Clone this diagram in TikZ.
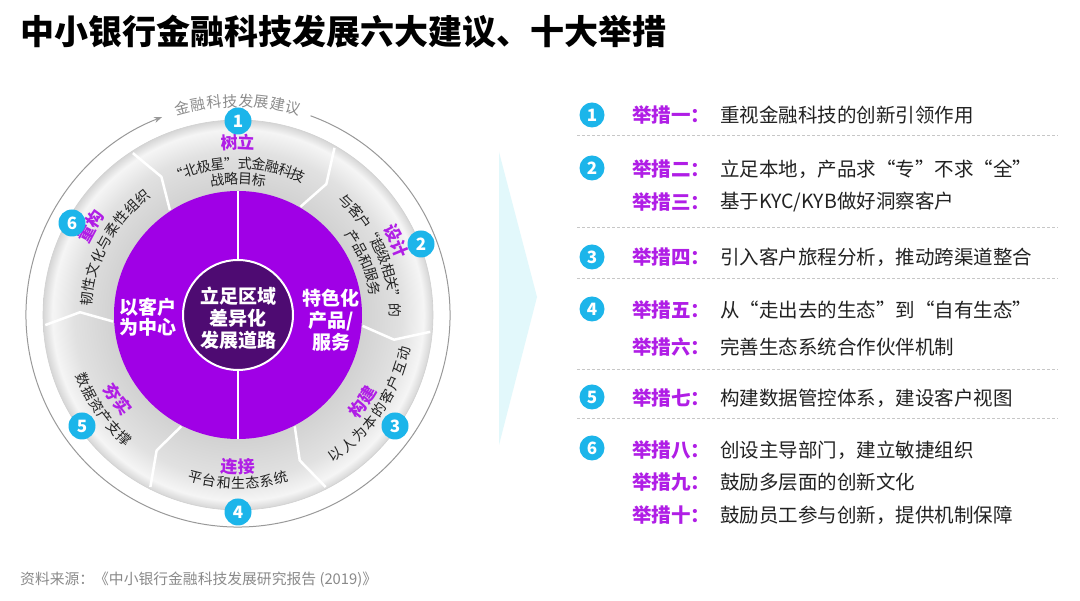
\documentclass[tikz,border=0pt]{standalone}
\usepackage{fontspec}
\setmainfont{Noto Sans CJK SC}
\usetikzlibrary{arrows.meta}
\definecolor{vio}{HTML}{A000E6}
\definecolor{dvio}{HTML}{4E0B72}
\definecolor{lab}{HTML}{B01EE6}
\definecolor{cyanb}{HTML}{1CB5EA}
\definecolor{txt}{HTML}{222222}
\definecolor{tri}{HTML}{E2F8FB}
\definecolor{ringa}{HTML}{D2D2D2}
\definecolor{ringb}{HTML}{E1E1E1}
\definecolor{ringc}{HTML}{F5F5F5}
\definecolor{ringd}{HTML}{D6D6D6}
\definecolor{srcgray}{HTML}{8A8A8A}
\pgfdeclareradialshading{ringshade}{\pgfpoint{0bp}{0bp}}{color(0bp)=(ringa); color(16bp)=(ringa); color(21bp)=(ringb); color(23.8bp)=(ringc); color(25bp)=(ringd); color(50bp)=(ringd)}
% clockwise line of characters (top half): #1 radius, #2 centre angle, #3 step, #4 count, #5 style, #6 name, #7 list
\newcommand\cwline[7]{%
  \foreach \ch [count=\i] in {#7}{%
    \pgfmathsetmacro\ang{#2+((#4+1)/2-\i)*#3/#1*57.2958}%
    \node[#5, rotate=\ang-90] (#6-\i) at (\ang:#1) {\ch};
  }}
% counter-clockwise line of characters (bottom half)
\newcommand\ccwline[7]{%
  \foreach \ch [count=\i] in {#7}{%
    \pgfmathsetmacro\ang{#2-((#4+1)/2-\i)*#3/#1*57.2958}%
    \node[#5, rotate=\ang+90] (#6-\i) at (\ang:#1) {\ch};
  }}
\tikzset{
  badge/.style={circle, fill=cyanb, text=white, minimum size=25pt, inner sep=0pt, font=\fontsize{17}{17}\selectfont\bfseries},
  rbadge/.style={badge, minimum size=27pt},
  lbl/.style={anchor=west, text=lab, font=\fontsize{19.5}{20}\selectfont\bfseries, inner sep=0pt},
  body/.style={anchor=west, text=txt, font=\fontsize{19.5}{20}\selectfont, inner sep=0pt},
  sepline/.style={draw=black!22, dash pattern=on 3pt off 2pt, line width=0.8pt},
  ctext/.style={align=center, text=white, inner sep=0pt, font=\fontsize{19}{22}\selectfont\bfseries},
  rtext/.style={text=txt, inner sep=-1pt, font=\fontsize{14}{14}\selectfont},
  rtitle/.style={text=lab, inner sep=-1pt, font=\fontsize{17}{17}\selectfont\bfseries},
  arcg/.style={text=black!45, inner sep=-1pt, font=\fontsize{15}{15}\selectfont},
}
\begin{document}
\begin{tikzpicture}[x=1pt,y=1pt]
\useasboundingbox (0,0) rectangle (1080,601);
\fill[white] (0,0) rectangle (1080,601);
% title
\node[anchor=west, inner sep=0pt, font=\fontsize{34}{34}\selectfont\bfseries] (title) at (20,569) {中小银行金融科技发展六大建议、十大举措};
% source
\node[anchor=west, inner sep=0pt, text=srcgray, font=\fontsize{14.8}{15}\selectfont] (src) at (20,21) {资料来源：《中小银行金融科技发展研究报告 (2019)》};
% light chevron
\fill[tri] (499,449) -- (537,304) -- (499,156) -- cycle;

% ---------- circle diagram ----------
\begin{scope}[shift={(238,286)}]
  \shade[shading=ringshade] (0,0) circle (195);
  \draw[black!18, line width=0.6pt] (0,0) circle (195);
  \draw[black!40, line width=1pt, -{Stealth[length=8pt,width=6pt]}] (70:212) arc[start angle=70, end angle=-249, radius=212];
  \cwline{214}{90}{16}{8}{arcg}{arc}{金,融,科,技,发,展,建,议}
  \fill[vio] (0,0) circle (124);
  \foreach \a in {60,-5,-63,-117,183,123}
    \draw[white, line width=2.5pt, line join=round] (\a:125) -- (\a-4:158) -- (\a:193);
  \draw[white, line width=1.5pt] (0,124) -- (0,-124);
  \fill[dvio, draw=white, line width=2pt] (0,0) circle (55);
  \node[ctext] (core) at (0,-3) {立足区域\\差异化\\发展道路};
  \node[ctext, font=\fontsize{19}{20}\selectfont\bfseries] (left) at (-90,-2) {以客户\\为中心};
  \node[ctext] (right) at (93,-5) {特色化\\产品/\\服务};
  % segment 1
  \cwline{173}{90}{17.5}{2}{rtitle}{t1}{树,立}
  \cwline{152}{90}{13.8}{10}{rtext}{a1}{“,北,极,星,”,式,金,融,科,技}
  \cwline{136}{90}{14}{4}{rtext}{b1}{战,略,目,标}
  % segment 2
  \cwline{175}{25}{17.5}{2}{rtitle}{t2}{设,计}
  \cwline{157}{24}{13.6}{10}{rtext}{a2}{与,客,户,“,超,级,相,关,”,的}
  \cwline{139}{22.5}{14}{5}{rtext}{b2}{产,品,和,服,务}
  % segment 3
  \ccwline{152}{-35}{17.5}{2}{rtitle}{t3}{构,建}
  \ccwline{170}{-34}{15.5}{9}{rtext}{a3}{以,人,为,本,的,客,户,互,动}
  % segment 4
  \ccwline{152}{-90}{17.5}{2}{rtitle}{t4}{连,接}
  \ccwline{168}{-90}{14.3}{7}{rtext}{a4}{平,台,和,生,态,系,统}
  % segment 5
  \ccwline{147}{-145}{17.5}{2}{rtitle}{t5}{夯,实}
  \ccwline{168}{-145}{14.5}{6}{rtext}{a5}{数,据,资,产,支,撑}
  % segment 6
  \cwline{172}{149}{17.5}{2}{rtitle}{t6}{重,构}
  \cwline{152}{151.5}{15}{9}{rtext}{a6}{韧,性,文,化,与,柔,性,组,织}
  % badges
  \node[rbadge] (r1) at (0,194) {1};
  \node[rbadge] (r2) at (183,71) {2};
  \node[rbadge] (r3) at (157,-111) {3};
  \node[rbadge] (r4) at (0,-197) {4};
  \node[rbadge] (r5) at (-156,-111) {5};
  \node[rbadge] (r6) at (-166,92) {6};
\end{scope}

% ---------- right list ----------
\node[badge] (n1) at (592,486) {1};
\node[badge] (n2) at (592,433) {2};
\node[badge] (n3) at (592,344) {3};
\node[badge] (n4) at (592,292) {4};
\node[badge] (n5) at (592,204) {5};
\node[badge] (n6) at (592,153) {6};

\node[lbl] (l1) at (632,486) {举措一：};  \node[body] (m1) at (720,486) {重视金融科技的创新引领作用};
\node[lbl] (l2) at (632,432) {举措二：};  \node[body] (m2) at (720,432) {立足本地，产品求“专”不求“全”};
\node[lbl] (l3) at (632,399) {举措三：};  \node[body] (m3) at (720,399) {基于KYC/KYB做好洞察客户};
\node[lbl] (l4) at (632,344) {举措四：};  \node[body] (m4) at (720,344) {引入客户旅程分析，推动跨渠道整合};
\node[lbl] (l5) at (632,291) {举措五：};  \node[body] (m5) at (720,291) {从“走出去的生态”到“自有生态”};
\node[lbl] (l6) at (632,254) {举措六：};  \node[body] (m6) at (720,254) {完善生态系统合作伙伴机制};
\node[lbl] (l7) at (632,203) {举措七：};  \node[body] (m7) at (720,203) {构建数据管控体系，建设客户视图};
\node[lbl] (l8) at (632,151) {举措八：};  \node[body] (m8) at (720,151) {创设主导部门，建立敏捷组织};
\node[lbl] (l9) at (632,119) {举措九：};  \node[body] (m9) at (720,119) {鼓励多层面的创新文化};
\node[lbl] (l10) at (632,86) {举措十：};  \node[body] (m10) at (720,86) {鼓励员工参与创新，提供机制保障};

\foreach \y in {466,374,323,232,183}
  \draw[sepline] (577,\y) -- (1058,\y);
\end{tikzpicture}
\end{document}
